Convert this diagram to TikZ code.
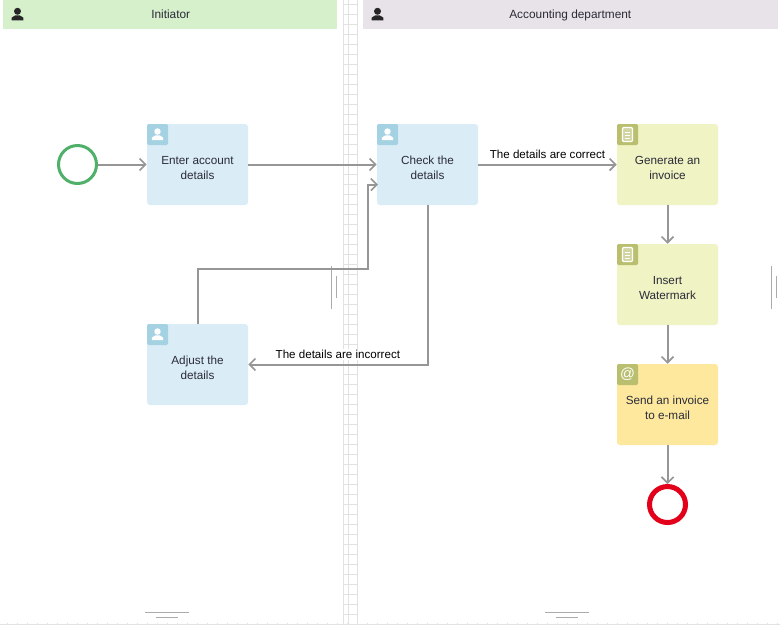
\documentclass[tikz,border=0pt]{standalone}
\usepackage{fontspec}
\setmainfont{Liberation Sans}
\usetikzlibrary{arrows.meta}
\definecolor{linegray}{HTML}{969696}
\definecolor{gridgray}{HTML}{E2E2E2}
\definecolor{markgray}{HTML}{ABABAB}
\definecolor{textdark}{HTML}{2B2B38}
\definecolor{laneGreen}{HTML}{D6F0CB}
\definecolor{laneGray}{HTML}{E8E3E8}
\definecolor{taskBlue}{HTML}{DAEDF6}
\definecolor{iconBlue}{HTML}{A5D2E3}
\definecolor{taskLime}{HTML}{F0F3C3}
\definecolor{iconLime}{HTML}{BABF70}
\definecolor{taskYellow}{HTML}{FDE89E}
\definecolor{eventgreen}{HTML}{4FB069}
\definecolor{eventred}{HTML}{E2001A}
\tikzset{
    lane/.style={minimum height=21.75pt, inner sep=0pt, anchor=north west, text height=7pt, text depth=2pt, font=\fontsize{8.9}{11}\selectfont, text=textdark},
    task/.style={rounded corners=2.25pt, minimum width=75.75pt, minimum height=60.75pt, inner sep=0pt, align=center, font=\fontsize{8.8}{11.25}\selectfont, text=textdark, execute at begin node={\rule{0pt}{22.2pt}}},
    taskicon/.style={minimum size=15.75pt, inner sep=0pt, anchor=north west, rounded corners=1pt},
    startevent/.style={circle, draw=eventgreen, line width=2.25pt, minimum size=28.5pt, inner sep=0pt},
    endevent/.style={circle, draw=eventred, line width=3.75pt, minimum size=27pt, inner sep=0pt},
    flow/.style={draw=linegray, line width=1.5pt, -{Straight Barb[length=4.5pt,width=9pt,line width=1.2pt]}},
    flowlabel/.style={fill=white, inner sep=1pt, font=\fontsize{8.7}{11}\selectfont, text=black},
    handleline/.style={draw=markgray, line width=0.7pt},
    pics/person/.style={code={
        \fill[#1] (0,-3.5) circle[radius=3.8];
        \fill[#1] (-6.5,6.5) -- (-6.5,3.5) -- (-2.5,1) -- (2.5,1) -- (6.5,3.5) -- (6.5,6.5) -- cycle;
    }},
    pics/sheet/.style={code={
        \draw[white, line width=1pt, rounded corners=0.8pt, fill=white, fill opacity=0.35] (-5,-7) rectangle (5,7);
        \draw[white, line width=0.8pt] (-2.5,-2) -- (2.5,-2) (-2.5,1) -- (2.5,1) (-2.5,4) -- (2.5,4);
    }}
}
\begin{document}
\begin{tikzpicture}[x=0.75pt, y=-0.75pt, >=stealth]
    \useasboundingbox (0,0) rectangle (780,626);
    \fill[white] (0,0) rectangle (780,626);

    % Draw the grid strip between the lanes
    \foreach \gx in {343,348,357}
        \draw[gridgray, line width=0.7pt] (\gx,0) -- (\gx,625);
    \foreach \gy in {4,14,...,624}
        \draw[gridgray, line width=0.7pt] (343,\gy) -- (357,\gy);

    % Bottom ruler
    \draw[gridgray, line width=0.8pt] (0,624.5) -- (780,624.5);
    \foreach \gx in {7,17,...,777}
        \draw[gridgray, line width=0.5pt] (\gx,622.5) -- (\gx,624.5);

    % Lane headers
    \fill[laneGreen] (3,0) rectangle (337,29);
    \fill[laneGray] (363,0) rectangle (778,29);
    \node[lane] (initiator) at (151,0) {Initiator};
    \node[lane] (accounting) at (509,0) {Accounting department};
    \pic[scale=0.92] at (17.5,14.5) {person={black!85}};
    \pic[scale=0.92] at (377.5,14.5) {person={black!85}};

    % Resize handles
    \draw[handleline] (331,266) -- (331,309);
    \draw[handleline] (336,276) -- (336,298);
    \draw[handleline] (771,266) -- (771,309);
    \draw[handleline] (776,276) -- (776,298);
    \draw[handleline] (145,612) -- (189,612);
    \draw[handleline] (156,617) -- (178,617);
    \draw[handleline] (545,612) -- (589,612);
    \draw[handleline] (556,617) -- (578,617);

    % Events
    \node[startevent] (start) at (77.5,164.5) {};
    \node[endevent] (finish) at (667.5,504.5) {};

    % Tasks of the initiator
    \node[task, fill=taskBlue] (enter) at (197.5,164.5) {Enter account\\details};
    \node[task, fill=taskBlue] (adjust) at (197.5,364.5) {Adjust the\\details};

    % Tasks of the accounting department
    \node[task, fill=taskBlue] (check) at (427.5,164.5) {Check the\\details};
    \node[task, fill=taskLime] (generate) at (667.5,164.5) {Generate an\\invoice};
    \node[task, fill=taskLime] (insert) at (667.5,284.5) {Insert\\Watermark};
    \node[task, fill=taskYellow] (send) at (667.5,404.5) {Send an invoice\\to e-mail};

    % Task icons
    \node[taskicon, fill=iconBlue] (enterIcon) at (enter.north west) {};
    \node[taskicon, fill=iconBlue] (adjustIcon) at (adjust.north west) {};
    \node[taskicon, fill=iconBlue] (checkIcon) at (check.north west) {};
    \node[taskicon, fill=iconLime] (generateIcon) at (generate.north west) {};
    \node[taskicon, fill=iconLime] (insertIcon) at (insert.north west) {};
    \node[taskicon, fill=iconLime, text=white, font=\fontsize{11}{11}\selectfont] (sendIcon) at (send.north west) {@};
    \foreach \tname in {enterIcon,adjustIcon,checkIcon}
        \pic[scale=0.85] at (\tname) {person={white}};
    \foreach \tname in {generateIcon,insertIcon}
        \pic at (\tname) {sheet};

    % Entry point of the returning flow
    \coordinate (checkBack) at (378,184.5);
    \coordinate (returnBend) at (368,268.5);

    % Flows
    \draw[flow] (start) -- (enter);
    \draw[flow] (enter) -- (check);
    \draw[flow] (adjust.north) |- (returnBend) |- (checkBack);
    \draw[flow] (check) -- (generate) node[flowlabel, pos=0.5, yshift=7.5pt] (correct) {The details are correct};
    \draw[flow] (check.south) |- (adjust.east) node[flowlabel, pos=0.75, yshift=7.5pt] (incorrect) {The details are incorrect};
    \draw[flow] (generate) -- (insert);
    \draw[flow] (insert) -- (send);
    \draw[flow] (send) -- (finish);
\end{tikzpicture}
\end{document}
